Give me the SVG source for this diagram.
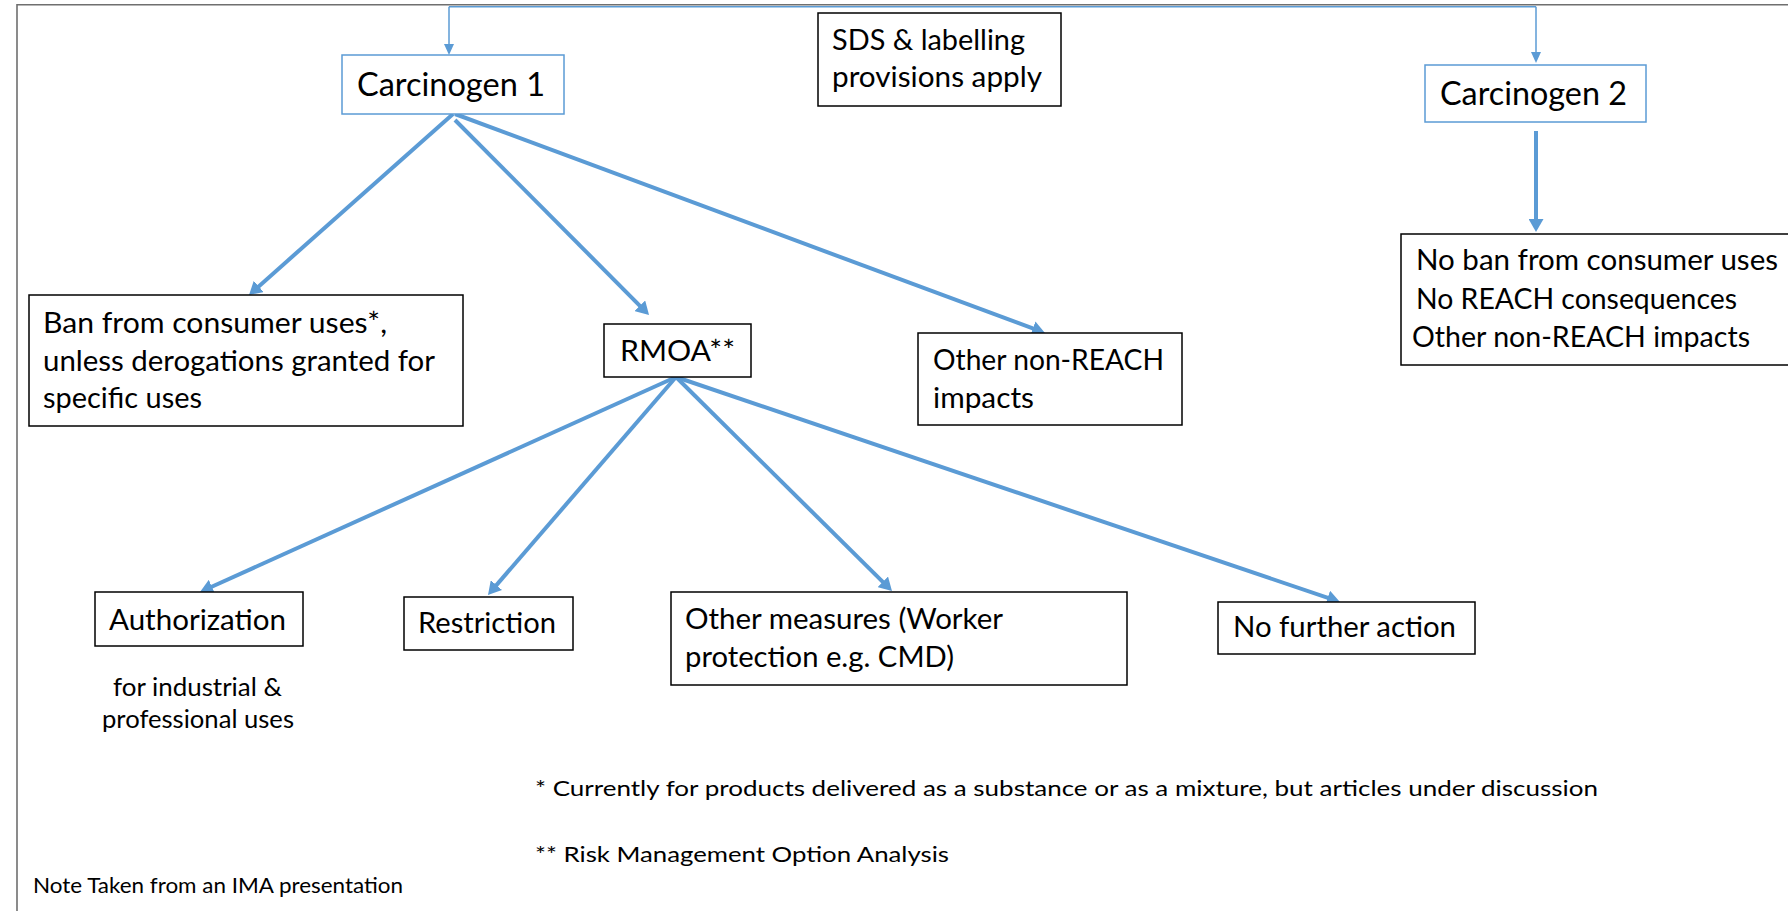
<svg xmlns="http://www.w3.org/2000/svg" width="1788" height="911" viewBox="0 0 1788 911">
<style>
.bg{fill:#fff}
.box{fill:#fff;stroke:#000;stroke-width:1.5}
.cbox{fill:#fff;stroke:#5B9BD5;stroke-width:1.5}
.frame{stroke:#6f6f6f;stroke-width:1.6;fill:none}
text{font-family:Lato,"Liberation Sans",sans-serif;fill:#000}
.big{font-size:32.5px}
.m{font-size:29px}
.s{font-size:24.3px}
.f{font-size:21.6px}
.n{font-size:21px}
.conn line{stroke:#5B9BD5;fill:none}
.thick{stroke-width:4}
.thin{stroke-width:1.5}
</style>
<defs>
<marker id="ah" markerUnits="userSpaceOnUse" markerWidth="14" markerHeight="15" refX="5" refY="7.5" orient="auto">
<path d="M0,0 L13,7.5 L0,15 z" fill="#5B9BD5"/>
</marker>
<marker id="ahs" markerUnits="userSpaceOnUse" markerWidth="11" markerHeight="10" refX="3" refY="5" orient="auto">
<path d="M0,0 L11,5 L0,10 z" fill="#5B9BD5"/>
</marker>
</defs>
<rect class="bg" x="0" y="0" width="1788" height="911"/>
<g id="frame">
<line class="frame" x1="17" y1="4.8" x2="1788" y2="4.8"/>
<line class="frame" x1="17" y1="4" x2="17" y2="911"/>
</g>
<g class="conn" id="connectors">
<line class="thin" x1="449" y1="6.8" x2="1536" y2="6.8"/>
<line class="thin" x1="449" y1="6.8" x2="449" y2="47" marker-end="url(#ahs)"/>
<line class="thin" x1="1536" y1="6.8" x2="1536" y2="55" marker-end="url(#ahs)"/>
<line class="thick" x1="1536" y1="131" x2="1536" y2="224" marker-end="url(#ah)"/>
<line class="thick" x1="453" y1="114" x2="255" y2="289.7" marker-end="url(#ah)"/>
<line class="thick" x1="455" y1="120" x2="643.4" y2="309.3" marker-end="url(#ah)"/>
<line class="thick" x1="455" y1="114" x2="1037.5" y2="330.2" marker-end="url(#ah)"/>
<line class="thick" x1="676" y1="377" x2="207.3" y2="588.7" marker-end="url(#ah)"/>
<line class="thick" x1="676" y1="377" x2="493.2" y2="588.9" marker-end="url(#ah)"/>
<line class="thick" x1="676" y1="377" x2="886.3" y2="585.4" marker-end="url(#ah)"/>
<line class="thick" x1="676" y1="377" x2="1332.4" y2="599.4" marker-end="url(#ah)"/>
</g>
<g id="carcinogen1">
<rect class="cbox" x="342" y="55" width="222" height="59"/>
<text class="big" x="357" y="96" textLength="188" lengthAdjust="spacingAndGlyphs">Carcinogen 1</text>
</g>
<g id="sds">
<rect class="box" x="818" y="13" width="243" height="93"/>
<text class="m" x="832" y="50" textLength="193" lengthAdjust="spacingAndGlyphs">SDS &amp; labelling</text>
<text class="m" x="832" y="87" textLength="210" lengthAdjust="spacingAndGlyphs">provisions apply</text>
</g>
<g id="carcinogen2">
<rect class="cbox" x="1425" y="65" width="221" height="57"/>
<text class="big" x="1440" y="105" textLength="187" lengthAdjust="spacingAndGlyphs">Carcinogen 2</text>
</g>
<g id="noban">
<rect class="box" x="1401" y="234" width="400" height="131"/>
<text class="m" x="1416" y="270" textLength="362" lengthAdjust="spacingAndGlyphs">No ban from consumer uses</text>
<text class="m" x="1416" y="309" textLength="321" lengthAdjust="spacingAndGlyphs">No REACH consequences</text>
<text class="m" x="1412" y="347" textLength="338" lengthAdjust="spacingAndGlyphs">Other non-REACH impacts</text>
</g>
<g id="ban">
<rect class="box" x="29" y="295" width="434" height="131"/>
<text class="m" x="43" y="333" textLength="344" lengthAdjust="spacingAndGlyphs">Ban from consumer uses*,</text>
<text class="m" x="43" y="371" textLength="392" lengthAdjust="spacingAndGlyphs">unless derogations granted for</text>
<text class="m" x="43" y="408" textLength="159" lengthAdjust="spacingAndGlyphs">specific uses</text>
</g>
<g id="rmoa">
<rect class="box" x="604" y="324" width="147" height="53"/>
<text class="m" x="620" y="361" textLength="115" lengthAdjust="spacingAndGlyphs">RMOA**</text>
</g>
<g id="othernonreach">
<rect class="box" x="918" y="333" width="264" height="92"/>
<text class="m" x="933" y="370" textLength="231" lengthAdjust="spacingAndGlyphs">Other non-REACH</text>
<text class="m" x="933" y="408" textLength="101" lengthAdjust="spacingAndGlyphs">impacts</text>
</g>
<g id="authorization">
<rect class="box" x="95" y="592" width="208" height="54"/>
<text class="m" x="109" y="630" textLength="177" lengthAdjust="spacingAndGlyphs">Authorization</text>
<text class="s" x="113" y="696" textLength="169" lengthAdjust="spacingAndGlyphs">for industrial &amp;</text>
<text class="s" x="102" y="728" textLength="192" lengthAdjust="spacingAndGlyphs">professional uses</text>
</g>
<g id="restriction">
<rect class="box" x="404" y="597" width="169" height="53"/>
<text class="m" x="418" y="633" textLength="138" lengthAdjust="spacingAndGlyphs">Restriction</text>
</g>
<g id="othermeasures">
<rect class="box" x="671" y="592" width="456" height="93"/>
<text class="m" x="685" y="629" textLength="318" lengthAdjust="spacingAndGlyphs">Other measures (Worker</text>
<text class="m" x="685" y="667" textLength="269" lengthAdjust="spacingAndGlyphs">protection e.g. CMD)</text>
</g>
<g id="nofurther">
<rect class="box" x="1218" y="602" width="257" height="52"/>
<text class="m" x="1233" y="637" textLength="223" lengthAdjust="spacingAndGlyphs">No further action</text>
</g>
<g id="notes">
<text class="f" x="535" y="796" textLength="1063" lengthAdjust="spacingAndGlyphs">* Currently for products delivered as a substance or as a mixture, but articles under discussion</text>
<text class="f" x="535" y="862" textLength="414" lengthAdjust="spacingAndGlyphs">** Risk Management Option Analysis</text>
<text class="n" x="33" y="893" textLength="370" lengthAdjust="spacingAndGlyphs">Note Taken from an IMA presentation</text>
</g>
</svg>
